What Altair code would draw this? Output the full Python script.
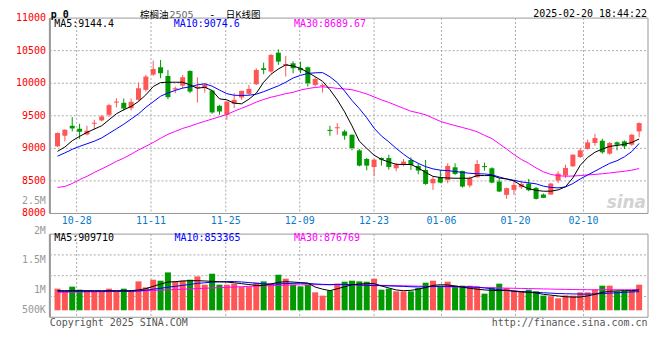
import altair as alt
import pandas as pd

# ---------------- data ----------------
OPEN = [9031, 9194, 9347, 9301, 9214, 9378, 9429, 9515, 9702, 9699,
        9617, 9745, 9898, 10133, 10245, 10112, 9905, 9964, 10189, 9923,
        9923, 9888, 9653, 9515, 9684, 9781, 9837, 9985, 10230, 10179,
        10469, 10270, 10306, 10235, 10245, 9974, 9956, 9284, 9308, 9260,
        9209, 8969, 8837, 8714, 8852, 8852, 8694, 8760, 8821, 8730,
        8668, 8464, 8556, 8515, 8709, 8653, 8429, 8556, 8728, 8694,
        8490, 8286, 8362, 8403, 8459, 8393, 8291, 8291, 8505, 8582,
        8724, 8867, 8990, 9082, 9117, 8918, 9092, 9107, 9056, 9260]
HIGH = [9245, 9290, 9480, 9378, 9347, 9439, 9510, 9684, 9770, 9765,
        9765, 10010, 10128, 10347, 10357, 10204, 9949, 10128, 10195, 10092,
        10000, 9890, 9668, 9720, 9847, 9885, 9974, 10230, 10316, 10449,
        10520, 10418, 10337, 10332, 10255, 10092, 9990, 9347, 9388, 9286,
        9212, 8990, 8852, 8837, 8862, 8903, 8776, 8837, 8862, 8770,
        8821, 8566, 8668, 8770, 8770, 8658, 8566, 8821, 8781, 8709,
        8541, 8398, 8500, 8490, 8531, 8408, 8306, 8469, 8648, 8750,
        8908, 9005, 9133, 9224, 9148, 9097, 9107, 9122, 9219, 9398]
LOW = [9020, 9107, 9260, 9143, 9199, 9286, 9413, 9480, 9628, 9582,
       9582, 9730, 9872, 10112, 10077, 9755, 9847, 9923, 9847, 9704,
       9857, 9531, 9515, 9439, 9617, 9745, 9821, 9974, 10138, 10163,
       10281, 10102, 10153, 10153, 9949, 9949, 9857, 9194, 9209, 9133,
       8969, 8724, 8663, 8571, 8735, 8673, 8648, 8724, 8668, 8602,
       8439, 8362, 8464, 8464, 8592, 8398, 8398, 8551, 8658, 8464,
       8330, 8224, 8286, 8378, 8342, 8214, 8240, 8291, 8469, 8546,
       8714, 8852, 8980, 9041, 8918, 8903, 8969, 8990, 9041, 9173]
CLOSE = [9235, 9286, 9306, 9255, 9270, 9394, 9490, 9663, 9718, 9612,
         9714, 9923, 10102, 10219, 10153, 9786, 9921, 10092, 9872, 9949,
         9974, 9551, 9566, 9719, 9745, 9883, 9913, 10204, 10204, 10434,
         10332, 10296, 10230, 10199, 10000, 10066, 9972, 9268, 9324, 9194,
         9005, 8735, 8735, 8827, 8827, 8714, 8750, 8796, 8745, 8658,
         8454, 8531, 8474, 8730, 8607, 8413, 8541, 8760, 8712, 8474,
         8337, 8388, 8439, 8454, 8357, 8224, 8240, 8459, 8612, 8699,
         8903, 8969, 9092, 9158, 8939, 9082, 9056, 9031, 9209, 9388]
MA5 = [8954, 9020, 9117, 9184, 9245, 9296, 9347, 9439, 9531, 9592,
       9643, 9719, 9821, 9949, 10010, 10015, 10015, 10015, 9974, 9923,
       9939, 9888, 9760, 9745, 9694, 9684, 9755, 9847, 10015, 10138,
       10219, 10281, 10265, 10228, 10165, 10100, 10030, 9900, 9745, 9560,
       9345, 9110, 9000, 8895, 8830, 8790, 8755, 8752, 8752, 8700,
       8630, 8570, 8552, 8545, 8541, 8541, 8541, 8582, 8582, 8582,
       8545, 8530, 8500, 8430, 8380, 8355, 8342, 8342, 8362, 8410,
       8546, 8740, 8860, 8940, 8990, 9030, 9045, 9062, 9090, 9144]
MA10 = [8880, 8930, 8985, 9030, 9070, 9110, 9160, 9230, 9300, 9370,
        9450, 9530, 9630, 9715, 9800, 9850, 9890, 9925, 9945, 9975,
        9990, 9955, 9895, 9840, 9815, 9812, 9816, 9832, 9870, 9915,
        9960, 10015, 10080, 10120, 10150, 10160, 10163, 10100, 10010, 9880,
        9735, 9610, 9470, 9310, 9190, 9100, 9000, 8910, 8830, 8770,
        8719, 8685, 8665, 8658, 8645, 8630, 8617, 8610, 8607, 8595,
        8560, 8530, 8510, 8485, 8470, 8455, 8420, 8400, 8393, 8408,
        8459, 8530, 8590, 8650, 8710, 8770, 8810, 8870, 8950, 9075]
MA30 = [8400, 8415, 8460, 8520, 8570, 8630, 8685, 8740, 8800, 8850,
        8910, 8975, 9030, 9090, 9155, 9215, 9260, 9306, 9340, 9380,
        9415, 9450, 9485, 9520, 9570, 9615, 9660, 9710, 9750, 9785,
        9811, 9840, 9860, 9895, 9918, 9935, 9945, 9935, 9920, 9912,
        9900, 9870, 9835, 9790, 9745, 9705, 9660, 9615, 9570, 9545,
        9515, 9465, 9415, 9380, 9350, 9320, 9290, 9255, 9200, 9150,
        9070, 8990, 8905, 8830, 8770, 8700, 8640, 8600, 8580, 8572,
        8575, 8582, 8592, 8600, 8610, 8622, 8635, 8648, 8665, 8690]
VOL = [1042000, 975000, 1092000, 1017000, 992000, 975000, 975000, 1042000, 992000, 1042000,
       1000000, 1225000, 1075000, 1267000, 1242000, 1450000, 1225000, 1242000, 1267000, 1350000,
       1142000, 1417000, 1142000, 1142000, 1167000, 1083000, 1083000, 1192000, 1225000, 1167000,
       1392000, 1292000, 1142000, 1100000, 1142000, 950000, 867000, 992000, 1167000, 1217000,
       1242000, 1225000, 1217000, 1292000, 1017000, 1042000, 975000, 975000, 975000, 1058000,
       1192000, 1242000, 1117000, 1217000, 1117000, 1117000, 1117000, 1100000, 917000, 1075000,
       1167000, 1058000, 992000, 975000, 1017000, 975000, 867000, 850000, 800000, 875000,
       867000, 950000, 950000, 1017000, 1117000, 1117000, 975000, 992000, 992000, 1142000]
VMA5 = [992000, 992000, 992000, 992000, 992000, 992000, 992000, 992000, 992000, 992000,
        992000, 1010000, 1042000, 1100000, 1158000, 1208000, 1217000, 1235000, 1242000, 1242000,
        1235000, 1225000, 1215000, 1208000, 1190000, 1167000, 1145000, 1125000, 1125000, 1160000,
        1200000, 1217000, 1208000, 1195000, 1183000, 1083000, 1030000, 992000, 1040000, 1090000,
        1140000, 1158000, 1167000, 1170000, 1110000, 1060000, 1010000, 992000, 1000000, 1030000,
        1070000, 1125000, 1140000, 1135000, 1110000, 1080000, 1050000, 1030000, 1010000, 1000000,
        992000, 1000000, 975000, 960000, 950000, 935000, 900000, 880000, 860000, 840000,
        830000, 833000, 860000, 900000, 950000, 975000, 985000, 992000, 992000, 1010000]
VMA10 = [975000, 975000, 975000, 975000, 975000, 975000, 975000, 975000, 975000, 975000,
         975000, 985000, 1000000, 1030000, 1050000, 1080000, 1100000, 1125000, 1150000, 1175000,
         1190000, 1205000, 1215000, 1220000, 1220000, 1210000, 1195000, 1180000, 1165000, 1158000,
         1160000, 1170000, 1175000, 1180000, 1175000, 1160000, 1150000, 1142000, 1150000, 1150000,
         1142000, 1135000, 1125000, 1120000, 1117000, 1112000, 1105000, 1100000, 1090000, 1085000,
         1090000, 1095000, 1100000, 1100000, 1095000, 1090000, 1085000, 1080000, 1060000, 1040000,
         1017000, 1000000, 985000, 970000, 960000, 950000, 940000, 930000, 920000, 915000,
         910000, 908000, 905000, 910000, 920000, 930000, 940000, 950000, 960000, 967000]
VMA30 = [950000, 952000, 955000, 957000, 960000, 962000, 965000, 968000, 972000, 976000,
         980000, 985000, 990000, 998000, 1005000, 1012000, 1020000, 1028000, 1036000, 1044000,
         1052000, 1060000, 1068000, 1076000, 1084000, 1092000, 1100000, 1106000, 1112000, 1118000,
         1124000, 1130000, 1135000, 1138000, 1140000, 1142000, 1142000, 1142000, 1140000, 1140000,
         1138000, 1136000, 1134000, 1130000, 1126000, 1122000, 1118000, 1114000, 1110000, 1106000,
         1100000, 1096000, 1092000, 1088000, 1084000, 1080000, 1076000, 1072000, 1068000, 1064000,
         1060000, 1056000, 1052000, 1048000, 1044000, 1040000, 1036000, 1032000, 1028000, 1024000,
         1020000, 1018000, 1016000, 1015000, 1015000, 1015000, 1015000, 1016000, 1016000, 1017000]

DATE_POS = [2.6, 12.7, 22.85, 32.9, 43.0, 52.15, 62.2, 71.45]
DATE_LABELS = ["10-28", "11-11", "11-25", "12-09", "12-23", "01-06", "01-20", "02-10"]
PRICE_TICKS = [8000, 8500, 9000, 9500, 10000, 10500, 11000]
PRICE_GRID = [8500, 9000, 9500, 10000, 10500]
VOL_LABEL_VALUES = [3240000, 2490000, 1750000, 1000000, 500000]
VOL_LABELS = ["2.5M", "2M", "1.5M", "1M", "500K"]
PRICE_LEGEND = ["MA5:9144.4", "MA10:9074.6", "MA30:8689.67"]
VOL_LEGEND = ["MA5:909710", "MA10:853365", "MA30:876769"]

# ---------------- layout / style ----------------
W = 600
TOP_H = 196
VOL_TOP = 216.7
VOL_BOT = 300.1
VOL_BASE = 500000
X_DOMAIN = [-0.36, 79.53]
P_DOMAIN = [8000, 11000]
V_DOMAIN = [325000, 2410000]
RED = "#ff5555"
GREEN = "#009900"
MONO = "DejaVu Sans Mono"
CJK = "Noto Sans CJK SC"
GRID = "#aaaaaa"
FRAME = "#999999"

df = pd.DataFrame({
    "i": list(range(len(OPEN))), "open": OPEN, "high": HIGH, "low": LOW, "close": CLOSE,
    "ma5": MA5, "ma10": MA10, "ma30": MA30,
    "vol": VOL, "vma5": VMA5, "vma10": VMA10, "vma30": VMA30,
})
df["dir"] = ["up" if c >= o else "down" for o, c in zip(OPEN, CLOSE)]

xs = alt.Scale(domain=X_DOMAIN, nice=False, zero=False)
ps = alt.Scale(domain=P_DOMAIN, range=[TOP_H, 0], nice=False, zero=False)
vs = alt.Scale(domain=V_DOMAIN, range=[VOL_BOT, VOL_TOP], nice=False, zero=False)
X = alt.X("i:Q", scale=xs, axis=None)
COLOR = alt.Color("dir:N", scale=alt.Scale(domain=["up", "down"], range=[RED, GREEN]), legend=None)

base = alt.Chart(df)
one = pd.DataFrame({"k": [0]})

dates = pd.DataFrame({"pos": DATE_POS, "label": DATE_LABELS})
pgrid = pd.DataFrame({"v": PRICE_GRID})
pticks = pd.DataFrame({"v": PRICE_TICKS, "label": [str(v) for v in PRICE_TICKS]})
vgrid = pd.DataFrame({"v": [V_DOMAIN[1] - (V_DOMAIN[1] - V_DOMAIN[0]) * k / 4 for k in (1, 2, 3)]})
vticks = pd.DataFrame({"v": VOL_LABEL_VALUES, "label": VOL_LABELS})


def txt(text, x, y, color="black", size=10, font=MONO, align="left", weight="normal",
        italic=False, opacity=1.0, baseline="middle"):
    return alt.Chart(pd.DataFrame({"t": [text]})).mark_text(
        align=align, baseline=baseline, font=font, fontSize=size, color=color,
        fontWeight=weight, fontStyle="italic" if italic else "normal", opacity=opacity,
    ).encode(x=alt.value(x), y=alt.value(y), text="t:N")


layers = []
# frames
for y0, y1 in ((0, TOP_H), (VOL_TOP, VOL_BOT)):
    layers.append(alt.Chart(one).mark_rect(fill=None, stroke=FRAME, strokeWidth=1).encode(
        x=alt.value(0), x2=alt.value(W), y=alt.value(y0), y2=alt.value(y1)))
    layers.append(alt.Chart(one).mark_rule(stroke=FRAME, strokeWidth=2).encode(
        x=alt.value(0), y=alt.value(y0), y2=alt.value(y1)))
# grids
layers.append(alt.Chart(pgrid).mark_rule(stroke=GRID, strokeDash=[2, 2]).encode(
    y=alt.Y("v:Q", scale=ps, axis=None), x=alt.value(0), x2=alt.value(W)))
layers.append(alt.Chart(vgrid).mark_rule(stroke=GRID, strokeDash=[2, 2]).encode(
    y=alt.Y("v:Q", scale=vs, axis=None), x=alt.value(0), x2=alt.value(W)))
for y0, y1 in ((0, TOP_H), (VOL_TOP, VOL_BOT)):
    layers.append(alt.Chart(dates).mark_rule(stroke=GRID, strokeDash=[2, 2]).encode(
        x=alt.X("pos:Q", scale=xs, axis=None), y=alt.value(y0), y2=alt.value(y1)))

# sina watermark (behind the candles)
layers.append(txt("sina", 598, 185, color="#d2d2d2", size=17, font="DejaVu Sans", align="right",
                  weight="bold", italic=True))

# volume
layers.append(base.mark_bar(size=6).encode(
    x=X, y=alt.Y("vol:Q", scale=vs, axis=None), y2=alt.datum(VOL_BASE), color=COLOR))
for col, c in (("vma30", "#ff00ff"), ("vma10", "#0000ff"), ("vma5", "#000000")):
    layers.append(base.mark_line(color=c, strokeWidth=1).encode(
        x=X, y=alt.Y(f"{col}:Q", scale=vs, axis=None)))

# candles
layers.append(base.mark_rule(strokeWidth=1).encode(
    x=X, y=alt.Y("low:Q", scale=ps, axis=None), y2="high:Q", color=COLOR))
layers.append(base.mark_bar(size=5).encode(
    x=X, y=alt.Y("open:Q", scale=ps, axis=None), y2="close:Q", color=COLOR))
for col, c in (("ma30", "#ff00ff"), ("ma10", "#0000ff"), ("ma5", "#000000")):
    layers.append(base.mark_line(color=c, strokeWidth=1).encode(
        x=X, y=alt.Y(f"{col}:Q", scale=ps, axis=None)))

# axis labels
layers.append(alt.Chart(pticks).mark_text(align="right", baseline="middle", font=MONO, fontSize=10, color="#ff0000").encode(
    x=alt.value(-4), y=alt.Y("v:Q", scale=ps, axis=None), text="label:N"))
layers.append(alt.Chart(vticks).mark_text(align="right", baseline="middle", font=MONO, fontSize=10, color="#999999").encode(
    x=alt.value(-4), y=alt.Y("v:Q", scale=vs, axis=None), text="label:N"))
layers.append(alt.Chart(dates).mark_text(align="center", baseline="middle", font=MONO, fontSize=10, color="#0a7ac8").encode(
    x=alt.X("pos:Q", scale=xs, axis=None), y=alt.value(204), text="label:N"))

# titles, legends, footer (header kept inside the drawable area)
TB = -0.3  # baseline of the header line, just above the frame
layers += [
    txt("p 0", 1, TB, size=10, weight="bold", baseline="alphabetic"),
    txt("棕榈油", 90.5, TB, size=9.5, font=CJK, baseline="alphabetic"),
    txt("2505", 120, TB, color="#666666", size=9.5, font="DejaVu Sans", baseline="alphabetic"),
    txt("-", 160, TB, size=10, font=MONO, baseline="alphabetic"),
    txt("日K线图", 176.5, TB, size=9.5, font=CJK, baseline="alphabetic"),
    txt("2025-02-20 18:44:22", 599, -0.6, size=10, align="right", baseline="alphabetic"),
    txt(PRICE_LEGEND[0], 4.3, 6.4),
    txt(PRICE_LEGEND[1], 124.3, 6.4, color="#0000ff"),
    txt(PRICE_LEGEND[2], 245, 6.4, color="#ff00ff"),
    txt(VOL_LEGEND[0], 4.3, 220.7),
    txt(VOL_LEGEND[1], 125, 220.7, color="#0000ff"),
    txt(VOL_LEGEND[2], 245, 220.7, color="#ff00ff"),
    txt("Copyright 2025 SINA.COM", 0, 306, color="#555555"),
    txt("http://finance.sina.com.cn", 599.5, 306, color="#555555", align="right"),
]

chart = alt.layer(*layers).resolve_scale(y="independent").properties(
    width=W, height=VOL_BOT,
    padding={"left": 42, "top": 9.6, "right": 4, "bottom": 30},
    autosize=alt.AutoSizeParams(type="none"),
).configure_view(stroke=None)

chart.save("out.html", embed_options={"renderer": "svg", "actions": False})
